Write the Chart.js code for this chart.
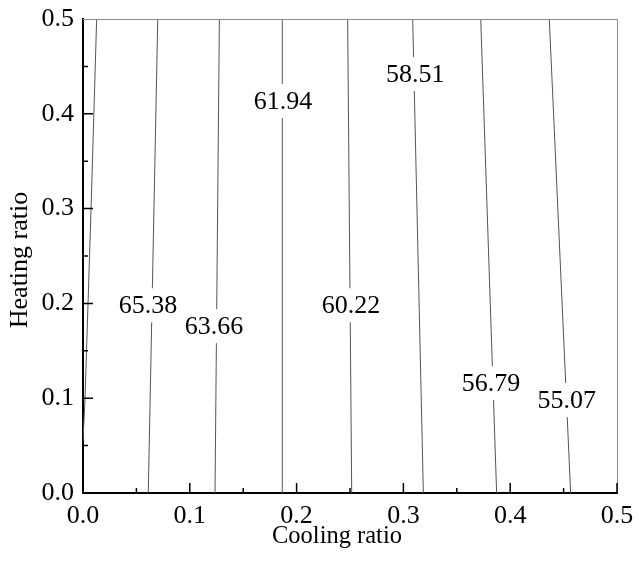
<!DOCTYPE html>
<html>
<head>
<meta charset="utf-8">
<script src="https://cdn.jsdelivr.net/npm/chart.js@4"></script>
<style>
  html, body { margin: 0; padding: 0; background: #fff; }
  #wrap { width: 639px; height: 561px; }
</style>
</head>
<body>
<div id="wrap"><canvas id="contour-chart"></canvas></div>
<script>
// contour lines, x position where each line meets y = 0 and y = 0.5
var lineBottomX = [0.0611, 0.1236, 0.1870, 0.2516, 0.3187, 0.3873, 0.4566];
var lineTopX = [0.0700, 0.1277, 0.1866, 0.2478, 0.3087, 0.3724, 0.4366];
var yRange = [0, 0.5];

// leftmost contour bends into the y axis
var edgeLineX = [0, 0.0019, 0.0078, 0.0128];
var edgeLineY = [0.055, 0.10, 0.31, 0.50];

// contour labels
var labelText = ['65.38', '63.66', '61.94', '60.22', '58.51', '56.79', '55.07'];
var labelX = [0.0609, 0.1227, 0.1873, 0.2510, 0.3110, 0.3820, 0.4530];
var labelY = [0.198, 0.176, 0.4135, 0.198, 0.442, 0.116, 0.098];

var tickValues = [0, 0.1, 0.2, 0.3, 0.4, 0.5];

var serif = '"Liberation Serif", "Times New Roman", serif';
var lineColor = '#555';

var datasets = [];
datasets.push({
    data: edgeLineX.map(function (x, i) { return { x: x, y: edgeLineY[i] }; }),
    showLine: true,
    borderColor: lineColor,
    borderWidth: 1,
    pointRadius: 0
});
for (var i = 0; i < lineBottomX.length; i++) {
    datasets.push({
        data: [{ x: lineBottomX[i], y: yRange[0] }, { x: lineTopX[i], y: yRange[1] }],
        showLine: true,
        borderColor: lineColor,
        borderWidth: 1,
        pointRadius: 0
    });
}

// frame, inward ticks, contour labels, axis titles
var decorations = {
    id: 'decorations',
    afterDatasetsDraw: function (chart) {
        var ctx = chart.ctx;
        var area = chart.chartArea;
        var xs = chart.scales.x;
        var ys = chart.scales.y;

        ctx.save();
        // labels with white boxes cutting the lines
        ctx.font = '26px ' + serif;
        ctx.textAlign = 'center';
        ctx.textBaseline = 'middle';
        for (var i = 0; i < labelText.length; i++) {
            var px = xs.getPixelForValue(labelX[i]);
            var py = ys.getPixelForValue(labelY[i]);
            var w = ctx.measureText(labelText[i]).width;
            ctx.fillStyle = '#fff';
            ctx.fillRect(px - w / 2 - 2, py - 17, w + 4, 34);
            ctx.fillStyle = '#000';
            ctx.fillText(labelText[i], px, py + 1);
        }

        // top and right frame
        ctx.strokeStyle = '#8a8a8a';
        ctx.lineWidth = 1;
        ctx.beginPath();
        ctx.moveTo(area.left, area.top + 0.5);
        ctx.lineTo(area.right + 0.5, area.top + 0.5);
        ctx.lineTo(area.right + 0.5, area.bottom);
        ctx.stroke();

        // inward ticks
        ctx.strokeStyle = '#000';
        ctx.lineWidth = 1.5;
        ctx.beginPath();
        for (var k = 0; k <= 10; k++) {
            var v = k * 0.05;
            var len = (k % 2 === 0) ? 10 : 5;
            var tx = xs.getPixelForValue(v);
            ctx.moveTo(tx, area.bottom);
            ctx.lineTo(tx, area.bottom - len);
            if (k < 10) {
                var ty = ys.getPixelForValue(v);
                ctx.moveTo(area.left, ty);
                ctx.lineTo(area.left + len, ty);
            }
        }
        ctx.stroke();

        // axis titles
        ctx.fillStyle = '#000';
        ctx.textAlign = 'center';
        ctx.textBaseline = 'middle';
        ctx.font = '24.5px ' + serif;
        ctx.fillText('Cooling ratio', 337, 537);
        ctx.font = '26px ' + serif;
        ctx.translate(20, 260);
        ctx.rotate(-Math.PI / 2);
        ctx.fillText('Heating ratio', 0, 0);
        ctx.restore();
    }
};

var ctx = document.getElementById('contour-chart').getContext('2d');
var contourChart = new Chart(ctx, {
    type: 'scatter',
    data: { datasets: datasets },
    options: {
        responsive: true,
        maintainAspectRatio: false,
        animation: false,
        layout: { padding: { top: 19, right: 22, left: 0, bottom: 0 } },
        scales: {
            x: {
                type: 'linear',
                min: 0,
                max: 0.5,
                afterFit: function (scale) {
                    scale.height = 68;
                    scale.paddingLeft = 0;
                    scale.paddingRight = 0;
                },
                afterBuildTicks: function (scale) {
                    scale.ticks = tickValues.map(function (v) { return { value: v }; });
                },
                ticks: {
                    color: '#000',
                    font: { family: serif, size: 26 },
                    padding: 8,
                    maxRotation: 0,
                    callback: function (v) { return Number(v).toFixed(1); }
                },
                grid: { display: false, drawTicks: false },
                border: { display: true, color: '#000', width: 2 }
            },
            y: {
                type: 'linear',
                min: 0,
                max: 0.5,
                afterFit: function (scale) {
                    scale.width = 83;
                    scale.paddingTop = 0;
                    scale.paddingBottom = 0;
                },
                afterBuildTicks: function (scale) {
                    scale.ticks = tickValues.map(function (v) { return { value: v }; });
                },
                ticks: {
                    color: '#000',
                    font: { family: serif, size: 26 },
                    padding: 9,
                    callback: function (v) { return Number(v).toFixed(1); }
                },
                grid: { display: false, drawTicks: false },
                border: { display: true, color: '#000', width: 2 }
            }
        },
        plugins: {
            legend: { display: false },
            tooltip: { enabled: false }
        }
    },
    plugins: [decorations]
});
</script>
</body>
</html>
